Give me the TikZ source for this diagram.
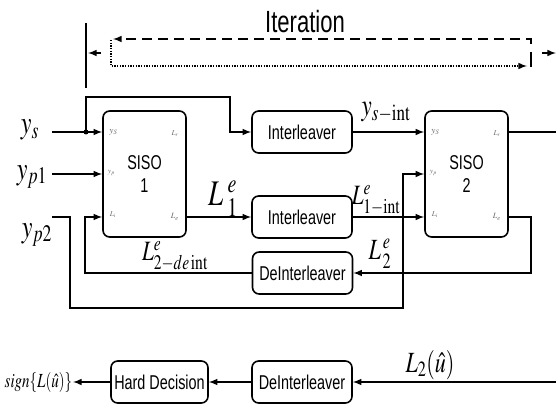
\documentclass[tikz,border=0pt]{standalone}
\usepackage{mathptmx}
\usepackage[no-math]{fontspec}
\setmainfont{Liberation Serif}
\newfontfamily\blockfont[FakeStretch=0.72]{Liberation Sans}
\usetikzlibrary{arrows}
\newcommand{\sqz}[1]{\scalebox{0.75}[1]{#1}}

\begin{document}
\begin{tikzpicture}[x=0.75pt,y=-0.75pt,line width=1.2pt,>=latex]
\tikzstyle{every node}=[inner sep=1pt]
\tikzstyle{block}=[draw,rounded corners=5pt,font=\blockfont\fontsize{15}{17}\selectfont,minimum width=75pt,minimum height=31.5pt]
\tikzstyle{siso}=[block,minimum width=62.25pt,minimum height=94.5pt,align=center]
\tikzstyle{port}=[text=black!60,font=\fontsize{7}{8}\selectfont]
\tikzstyle{sig}=[inner sep=0pt]
\useasboundingbox (0,0) rectangle (556,406);
% blocks
\draw (144.5,174) node (siso1) [siso] {SISO\\1};
\draw (466.5,174) node (siso2) [siso] {SISO\\2};
\draw (302,132) node (intl1) [block] {Interleaver};
\draw (302,217) node (intl2) [block] {Interleaver};
\draw (302.5,273) node (deintl) [block] {DeInterleaver};
\draw (302,382) node (deintl2) [block] {DeInterleaver};
\draw (159.5,382) node (hard) [block,minimum width=72.75pt] {Hard Decision};
\foreach \s in {siso1,siso2} {
  \draw ([shift={(-31,-42)}]\s.center) node [port] {$y_S$};
  \draw ([shift={(30.5,-40)}]\s.center) node [port,font=\fontsize{5.5}{6}\selectfont] {$L_r$};
  \draw ([shift={(-33,-1)}]\s.center) node [port,font=\fontsize{5.5}{6}\selectfont] {$y_p$};
  \draw ([shift={(-31.5,41)}]\s.center) node [port,font=\fontsize{5.5}{6}\selectfont] {$L_i$};
  \draw ([shift={(30.5,43)}]\s.center) node [port,font=\fontsize{6}{7}\selectfont] {$L_e$};
}
% signal labels
\draw (30,130) node (ys) [sig,font=\fontsize{24}{26}\selectfont] {\sqz{$y_s$}};
\draw (32,177) node (yp1) [sig,font=\fontsize{24}{26}\selectfont] {\sqz{$y_{p1}$}};
\draw (37,235) node (yp2) [sig,font=\fontsize{24}{26}\selectfont] {\sqz{$y_{p2}$}};
\draw (386,112) node (ysint) [sig,font=\fontsize{23}{25}\selectfont] {\sqz{$y_{s-\mathrm{int}}$}};
\draw (223,199) node (l1e) [sig,font=\fontsize{27}{29}\selectfont] {\sqz{$L_{\;1}^{\;e}$}};
\draw (376,200) node (l1int) [sig,font=\fontsize{21}{23}\selectfont] {\sqz{$L^e_{1-\mathrm{int}}$}};
\draw (175,256) node (l2deint) [sig,font=\fontsize{21}{23}\selectfont] {\sqz{$L^e_{2-de\,\mathrm{int}}$}};
\draw (380,254) node (l2e) [sig,font=\fontsize{22}{24}\selectfont] {\sqz{$L^{\,e}_{\,2}$}};
\draw (430,365) node (l2u) [sig,font=\fontsize{22}{24}\selectfont] {\sqz{$L_2(\hat{u})$}};
\draw (73,382) node (sign) [sig,anchor=east,font=\fontsize{15}{17}\selectfont] {\sqz{$sign\{L(\hat{u})\}$}};
\draw (305,22) node (iter) [font=\blockfont\fontsize{23}{25}\selectfont] {Iteration};
% free ends
\coordinate (ysin) at (52,132);
\coordinate (jct) at (86,132);
\coordinate (loop) at (230,97);
\coordinate (yp1in) at (52,174);
\coordinate (yp2in) at (52,217);
\coordinate (yp2a) at (70,308);
\coordinate (yp2b) at (403,174);
\coordinate (fbr) at (531,273);
\coordinate (fbl) at (85,273);
\coordinate (lrout) at (556,132);
\coordinate (l2in) at (556,382);
% connectors
\draw[->] (ysin) -- (ysin -| siso1.west);
\fill (jct) circle (2.5);
\draw[->] (jct) |- (loop) |- (intl1.west);
\draw[->] (yp1in) -- (yp1in -| siso1.west);
\draw[->] (yp2in) -| (yp2a) -| (yp2b) -- (yp2b -| siso2.west);
\draw[->] (siso1.east |- intl2) -- (intl2.west);
\draw[->] (intl1.east) -- (intl1 -| siso2.west);
\draw[->] (intl2.east) -- (intl2 -| siso2.west);
\draw[->] (siso2.east |- intl2) -| (fbr) -- (deintl.east);
\draw[->] (deintl.west) -- (fbl) |- (intl2 -| siso1.west);
\draw (siso2.east |- intl1) -- (lrout);
\draw[->] (l2in) -- (deintl2.east);
\draw[->] (deintl2.west) -- (hard.east);
\draw[->] (hard.west) -- (sign.east);
% iteration marker
\coordinate (itop) at (86,23);
\coordinate (ibot) at (86,88);
\coordinate (la) at (101,53);
\coordinate (lb) at (88,53);
\coordinate (ra) at (542,53);
\coordinate (rb) at (556,53);
\coordinate (dsh) at (531,44);
\coordinate (dse) at (113,39);
\coordinate (dts) at (111,40);
\coordinate (dte) at (527,66);
\coordinate (sva) at (531,52);
\coordinate (svb) at (531,67);
\draw (itop) -- (ibot);
\draw[->] (la) -- (lb);
\draw[->] (ra) -- (rb);
\draw[->,dash pattern=on 7.5pt off 4.5pt] (dsh) |- (dse);
\draw[->,dash pattern=on 1pt off 1pt] (dts) |- (dte);
\draw (sva) -- (svb);
\end{tikzpicture}
\end{document}
